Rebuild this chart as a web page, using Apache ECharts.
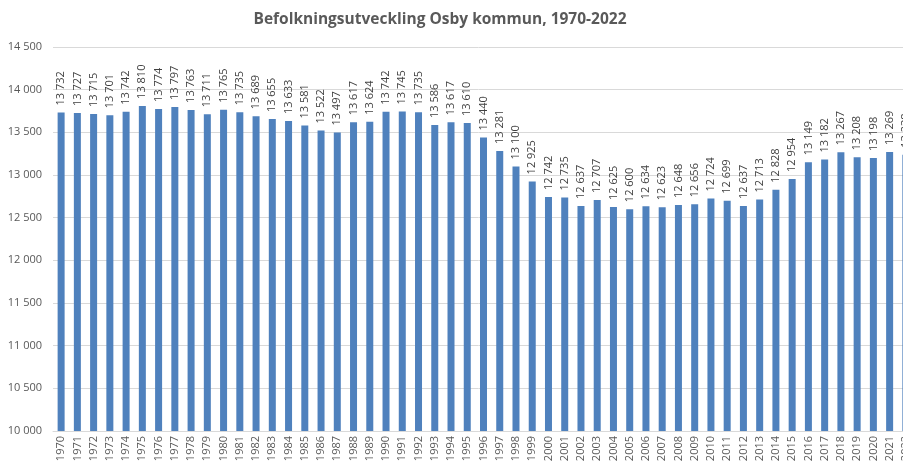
<!DOCTYPE html>
<html>
<head>
<meta charset="utf-8">
<script src="https://cdn.jsdelivr.net/npm/echarts@6/dist/echarts.min.js"></script>
<style>
  html, body { margin: 0; padding: 0; background: #fff; }
  #main { width: 903px; height: 465px; }
</style>
</head>
<body>
<div id="main"></div>
<script>
var years = ['1970','1971','1972','1973','1974','1975','1976','1977','1978','1979',
  '1980','1981','1982','1983','1984','1985','1986','1987','1988','1989',
  '1990','1991','1992','1993','1994','1995','1996','1997','1998','1999',
  '2000','2001','2002','2003','2004','2005','2006','2007','2008','2009',
  '2010','2011','2012','2013','2014','2015','2016','2017','2018','2019',
  '2020','2021','2022'];
var population = [13732,13727,13715,13701,13742,13810,13774,13797,13763,13711,
  13765,13735,13689,13655,13633,13581,13522,13497,13617,13624,
  13742,13745,13735,13586,13617,13610,13440,13281,13100,12925,
  12742,12735,12637,12707,12625,12600,12634,12623,12648,12656,
  12724,12699,12637,12713,12828,12954,13149,13182,13267,13208,
  13198,13269,13238];
var yMin = 10000, yMax = 14500, yStep = 500;

// tusentalsavgränsare med mellanslag
function fmt(v) {
  return String(v).replace(/\B(?=(\d{3})+(?!\d))/g, ' ');
}

var myChart = echarts.init(document.getElementById('main'));
myChart.setOption({
  animation: false,
  title: {
    text: 'Befolkningsutveckling Osby kommun, 1970-2022',
    left: 435,
    top: 7,
    textAlign: 'center',
    textStyle: { fontFamily: 'Open Sans', fontSize: 15.5, fontWeight: 'bold', color: '#595959' }
  },
  grid: { left: 53, top: 47, width: 861, bottom: 34, containLabel: false, outerBoundsMode: 'none' },
  xAxis: {
    type: 'category',
    data: years,
    axisTick: { show: false },
    axisLine: { lineStyle: { color: '#d9d9d9' } },
    axisLabel: { rotate: 90, interval: 0, margin: 5, color: '#595959', fontFamily: 'Open Sans', fontSize: 11 }
  },
  yAxis: {
    type: 'value',
    min: yMin, max: yMax, interval: yStep,
    axisLine: { show: false },
    axisTick: { show: false },
    splitLine: { lineStyle: { color: '#d9d9d9' } },
    axisLabel: { formatter: fmt, margin: 11, color: '#595959', fontFamily: 'Open Sans', fontSize: 11 }
  },
  series: [{
    type: 'bar',
    data: population,
    barWidth: 7,
    itemStyle: { color: '#4f81bd' },
    label: {
      show: true,
      position: 'top',
      rotate: 90,
      align: 'left',
      verticalAlign: 'middle',
      distance: 7,
      formatter: function (p) { return fmt(p.value); },
      color: '#404040',
      fontFamily: 'Open Sans',
      fontSize: 11
    }
  }]
});
</script>
</body>
</html>
